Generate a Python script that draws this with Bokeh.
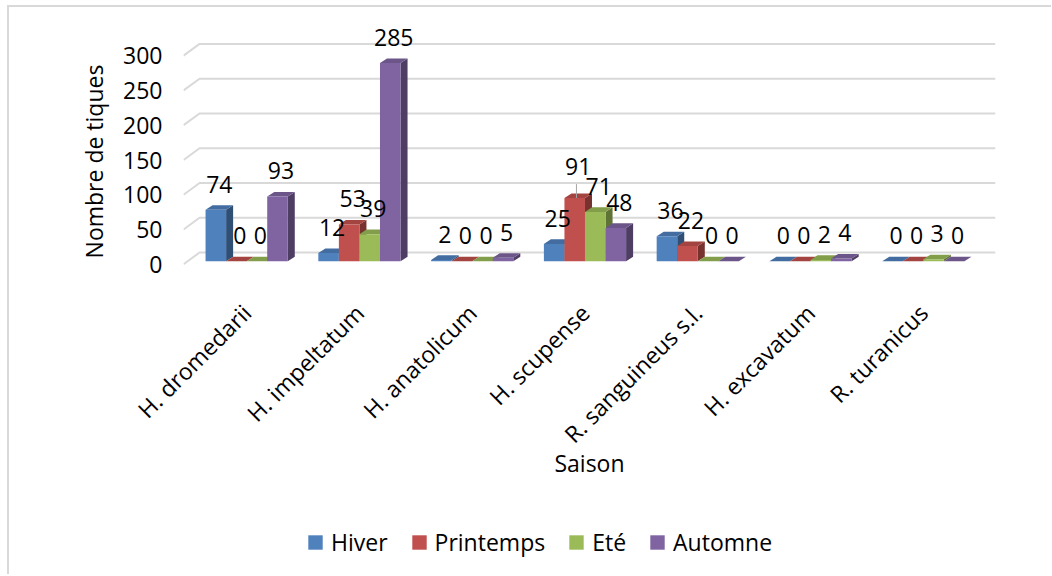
import math
from bokeh.plotting import figure
from bokeh.layouts import column
from bokeh.models import Range1d, FixedTicker, Legend, LegendItem, LinearAxis
from bokeh.core.properties import value
from bokeh.embed import file_html
from bokeh.resources import INLINE

# ---------------- data ----------------
categories = ["H. dromedarii", "H. impeltatum", "H. anatolicum", "H. scupense",
              "R. sanguineus s.l.", "H. excavatum", "R. turanicus"]
series_names = ["Hiver", "Printemps", "Eté", "Automne"]
hiver = [74, 12, 2, 25, 36, 0, 0]
printemps = [0, 53, 0, 91, 22, 0, 0]
ete = [0, 39, 0, 71, 0, 2, 3]
automne = [93, 285, 5, 48, 0, 4, 0]
y_ticks = [0, 50, 100, 150, 200, 250, 300]

# ---------------- styling ----------------
colors = ["#4F81BD", "#C0504D", "#9BBB59", "#8064A2"]
FONT = "Open Sans"
FS = "23px"
BORDER = "2px solid #d9d9d9"

def shade(hexc, f):
    r, g, b = int(hexc[1:3], 16), int(hexc[3:5], 16), int(hexc[5:7], 16)
    return "#%02x%02x%02x" % (int(r * f), int(g * f), int(b * f))

PX_X = 112.5   # px per category unit
PX_Y = 0.69    # px per value unit
X0, X1 = -0.56, 6.64
Y0, Y1 = -47.8, 334.8
BW = 20.5 / PX_X          # bar width
DX = 7.0 / PX_X           # bar depth (x)
DY = 4.5 / PX_Y           # bar depth (y)
GDX = 16.0 / PX_X         # floor depth (x)
GF = 3.0 / PX_Y           # floor front edge below bar plane
GB = 8.7 / PX_Y           # back wall above bar plane
LBL = 37.0                # label offset (value units)

p = figure(width=1044, height=510, output_backend="svg", toolbar_location=None,
           x_range=Range1d(X0, X1), y_range=Range1d(Y0, Y1),
           y_axis_location=None,
           min_border_left=174, min_border_right=58, min_border_top=21,
           min_border_bottom=223)
p.styles = {"margin-left": "7px", "margin-top": "5px",
            "border-left": BORDER, "border-top": BORDER}
p.outline_line_color = None
p.grid.visible = False
p.background_fill_color = "white"
p.border_fill_color = "white"

# axis range aligned with the front edge of the floor / side wall
p.extra_y_ranges = {"front": Range1d(Y0 + GF, Y1 + GF)}

# gridlines (back wall + side wall)
gxs, gys = [], []
for t in y_ticks:
    gxs.append([X0, X0 + GDX, X1])
    gys.append([t - GF, t + GB, t + GB])
p.multi_line(gxs, gys, line_color="#d9d9d9", line_width=2)

# 3D bars
series = [hiver, printemps, ete, automne]
fxs, fys, fcs = [], [], []
lx, ly, lt = [], [], []
for ci in range(len(categories)):
    for si, vals in enumerate(series):
        h = vals[ci]
        x0 = ci + (si - 2) * BW
        x1 = x0 + BW
        c = colors[si]
        fxs.append([x1, x1 + DX, x1 + DX, x1]); fys.append([0, DY, h + DY, h]); fcs.append(shade(c, 0.62))
        fxs.append([x0, x1, x1 + DX, x0 + DX]); fys.append([h, h, h + DY, h + DY]); fcs.append(shade(c, 0.85))
        fxs.append([x0, x1, x1, x0]); fys.append([0, 0, h, h]); fcs.append(c)
        lx.append((x0 + x1) / 2 + DX / 2)
        ly.append(h + LBL + (8 if (ci == 3 and si == 1) else 0))
        lt.append(str(h))
p.patches(fxs, fys, fill_color=fcs, line_color=None)

lead_x = 3 + (1 - 2) * BW + BW / 2 + DX / 4
p.segment([lead_x], [printemps[3]], [lead_x], [printemps[3] + 20], line_color="#a6a6a6", line_width=1)

p.text(lx, ly, text=lt, text_font=value(FONT), text_font_size=FS, text_align="center",
       text_baseline="middle", text_color="black")

# y axis
yax = LinearAxis(y_range_name="front", ticker=FixedTicker(ticks=y_ticks))
yax.axis_line_color = None
yax.major_tick_line_color = None
yax.minor_tick_line_color = None
yax.major_label_text_font = FONT
yax.major_label_text_font_size = FS
yax.major_label_text_color = "black"
yax.major_label_standoff = 15
yax.axis_label = "Nombre de tiques"
yax.axis_label_text_font = FONT
yax.axis_label_text_font_size = FS
yax.axis_label_text_font_style = "normal"
yax.axis_label_text_color = "black"
yax.axis_label_standoff = 10
p.add_layout(yax, "left")

# x axis
p.xaxis.ticker = FixedTicker(ticks=list(range(len(categories))))
p.xaxis.major_label_overrides = {i: c for i, c in enumerate(categories)}
p.xaxis.major_label_orientation = math.pi / 4
p.xaxis.axis_line_color = None
p.xaxis.major_tick_line_color = None
p.xaxis.minor_tick_line_color = None
p.xaxis.major_label_text_font = FONT
p.xaxis.major_label_text_font_size = FS
p.xaxis.major_label_text_color = "black"
p.xaxis.major_label_standoff = 8
p.xaxis.axis_label = "Saison"
p.xaxis.axis_label_text_font = FONT
p.xaxis.axis_label_text_font_size = FS
p.xaxis.axis_label_text_font_style = "normal"
p.xaxis.axis_label_text_color = "black"
p.xaxis.axis_label_standoff = -17

# legend figure
q = figure(width=1044, height=59, output_backend="svg", toolbar_location=None,
           x_range=Range1d(0, 1), y_range=Range1d(0, 1),
           x_axis_location=None, y_axis_location=None, min_border=0)
q.styles = {"margin-left": "7px", "border-left": BORDER}
q.outline_line_color = None
q.grid.visible = False
items = []
for name, c in zip(series_names, colors):
    # placeholder glyph kept outside the visible range, used only for the legend swatch
    r = q.quad(top=[3], bottom=[2], left=[2], right=[3], fill_color=c, line_color=None)
    items.append(LegendItem(label=name, renderers=[r]))
legend = Legend(items=items, orientation="horizontal", location=(123, 16),
                glyph_width=18, glyph_height=18, label_text_font=FONT,
                label_text_font_size=FS, label_text_color="black", spacing=22,
                label_standoff=7, padding=0, margin=0, border_line_color=None,
                background_fill_alpha=0)
q.add_layout(legend)

layout = column(p, q, spacing=0)
open("out.html", "w").write(file_html(layout, INLINE))
